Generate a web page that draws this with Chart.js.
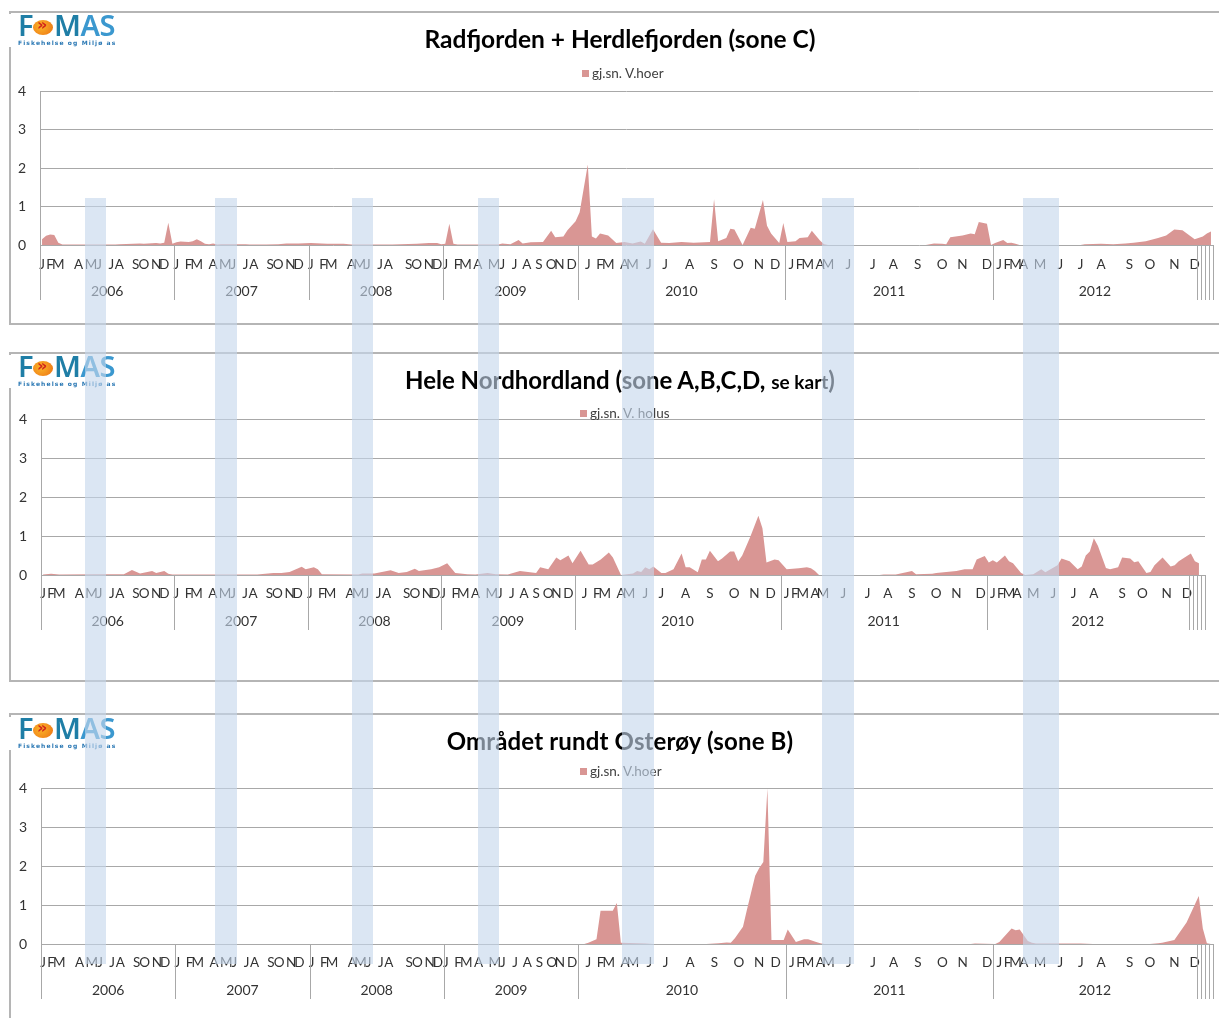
<!DOCTYPE html>
<html>
<head>
<meta charset="utf-8">
<script src="https://cdn.jsdelivr.net/npm/chart.js@4.4.1/dist/chart.umd.min.js"></script>
<style>
  body { margin: 0; width: 1219px; height: 1018px; overflow: hidden; background: #fff; position: relative; font-family: Lato, 'Open Sans', sans-serif; }
  .frame { position: absolute; left: 9px; width: 1212px; border-top: 2px solid #b5b5b5; border-left: 2px solid #b5b5b5; border-bottom: 2px solid #b5b5b5; box-sizing: border-box; }
  canvas { position: absolute; left: 10px; }
  .logo { position: absolute; left: 8px; width: 112px; height: 33px; background: #fff; }
  .logo .lg { position: absolute; left: 10px; top: -3px; font: 600 29px/28px 'Noto Sans', sans-serif; color: #1f7ea6; letter-spacing: -0.5px; white-space: nowrap; }
  .logo .fish { display: inline-block; width: 20px; height: 15px; margin: 0 1px 0 0; border-radius: 50%; background: radial-gradient(circle at 40% 40%, #fbb62a, #ec6f12); vertical-align: 1px; position: relative; }
  .logo .fish:after { content: '\00BB'; position: absolute; left: 4px; top: -6px; font: bold 16px/22px 'DejaVu Sans', sans-serif; color: #d2261b; }
  .logo .as { color: #3b98cf; }
  .logo .sub { position: absolute; left: 10px; top: 25px; font: bold 6px/7px 'DejaVu Sans', sans-serif; color: #2a78b4; letter-spacing: 1.1px; white-space: nowrap; }
  .title { position: absolute; left: 620px; transform: translateX(-50%); font-weight: bold; color: #000; white-space: nowrap; line-height: 1; }
  .title small { font-size: 19px; }
  .leg { position: absolute; font-size: 13.5px; color: #404040; white-space: nowrap; line-height: 1; }
  .leg i { display: inline-block; width: 7px; height: 7px; margin-right: 3px; vertical-align: 1px; }
  .band { position: absolute; background: rgba(197, 214, 236, 0.62); z-index: 10; }
</style>
</head>
<body>
<div class="frame" style="top:11px;height:314px"></div>
<div class="frame" style="top:352px;height:330px"></div>
<div class="frame" style="top:713px;height:320px"></div>

<canvas id="c1" width="1209" height="312" style="top:12px"></canvas>
<canvas id="c2" width="1209" height="328" style="top:353px"></canvas>
<canvas id="c3" width="1209" height="304" style="top:714px"></canvas>

<div class="logo" style="top:14px"><div class="lg">F<span class="fish"></span>M<span class="as">AS</span></div><div class="sub">Fiskehelse og Miljø as</div></div>
<div class="logo" style="top:355px"><div class="lg">F<span class="fish"></span>M<span class="as">AS</span></div><div class="sub">Fiskehelse og Miljø as</div></div>
<div class="logo" style="top:717px"><div class="lg">F<span class="fish"></span>M<span class="as">AS</span></div><div class="sub">Fiskehelse og Miljø as</div></div>

<div class="title" style="top:27px;font-size:24.5px">Radfjorden + Herdlefjorden (sone C)</div>
<div class="title" style="top:368px;font-size:24px">Hele Nordhordland (sone A,B,C,D, <small>se kart</small>)</div>
<div class="title" style="top:729px;font-size:24px;letter-spacing:0.15px">Området rundt Osterøy (sone B)</div>

<div class="leg" id="l1" style="left:582px;top:67px"></div>
<div class="leg" id="l2" style="left:580px;top:407px"></div>
<div class="leg" id="l3" style="left:580px;top:765px"></div>

<script>
// sample index on x (one category per sample), 0 = first sample of 2006
const monthLetters = ['J', 'F', 'M', 'A', 'M', 'J', 'J', 'A', 'S', 'O', 'N', 'D'];
const monthIdx = [
  0, 2, 4, 9, 12, 14, 17, 19, 23, 25, 28, 30,
  33, 36, 38, 42, 45, 47, 50, 52, 56, 58, 61, 63,
  66, 69, 71, 76, 78, 80, 83, 85, 90, 92, 95, 97,
  99, 102, 104, 107, 111, 113, 116, 119, 122, 125, 127, 130,
  134, 137, 139, 143, 145, 149, 153, 159, 165, 171, 176, 180,
  184, 186, 188, 191, 193, 198, 204, 209, 215, 221, 226, 232,
  235, 237, 239, 241, 245, 250, 255, 260, 267, 272, 278, 283
];
const yearLbl   = ['2006', '2007', '2008', '2009', '2010', '2011', '2012', '', '', '', ''];
const yearFirst = [0, 33, 66, 99, 132, 183, 234, 284, 285, 286, 287];
const lastIdx = 287;

// highlighted periods (from/to in sample index)
const bandFrom = [10.5, 42.5, 76.1, 107.0, 142.5, 191.6, 240.8];
const bandTo   = [15.7, 47.9, 81.3, 112.2, 150.3, 199.4, 249.7];

// [sample index, gj.sn. lus] - vertices
const soneC = [
  [0,0.15],[1,0.24],[2,0.27],[3,0.26],[4,0.06],[5,0.01],[18,0.01],[19,0.02],[24,0.04],[25,0.03],
  [28,0.05],[29,0.04],[30,0.06],[31,0.58],[32,0.03],[33,0.07],[34,0.09],[36,0.08],[37,0.10],[38,0.15],
  [39,0.10],[40,0.03],[41,0.02],[42,0.04],[43,0.01],[44,0.02],[50,0.02],[51,0.01],[55,0.01],[58,0.02],
  [60,0.04],[63,0.04],[66,0.05],[70,0.03],[74,0.03],[76,0.01],[86,0.01],[88,0.02],[92,0.03],[95,0.05],
  [97,0.05],[98,0.02],[99,0.03],[100,0.55],[101,0.03],[102,0.01],[112,0.01],[113,0.04],[115,0.02],[117,0.13],
  [118,0.04],[120,0.07],[123,0.08],[125,0.37],[126,0.20],[128,0.22],[129,0.38],[131,0.62],[132,0.85],[134,2.09],
  [135,0.22],[136,0.17],[137,0.30],[139,0.25],[141,0.05],[143,0.08],[145,0.04],[147,0.09],[148,0.03],[150,0.41],
  [152,0.06],[154,0.05],[157,0.08],[160,0.06],[164,0.08],[165,1.19],[166,0.10],[168,0.18],[169,0.42],[170,0.40],
  [172,0.00],[174,0.45],[175,0.42],[177,1.17],[178,0.50],[179,0.30],[181,0.05],[182,0.57],[183,0.08],[185,0.10],
  [186,0.18],[188,0.20],[189,0.37],[191,0.12],[192,0.02],[193,0.00],[217,0.00],[219,0.04],[221,0.03],[222,0.02],
  [223,0.20],[226,0.25],[228,0.30],[229,0.28],[230,0.60],[232,0.55],[233,0.00],[234,0.05],[236,0.13],[237,0.05],
  [238,0.06],[239,0.03],[240,0.00],[255,0.00],[256,0.02],[260,0.03],[263,0.02],[266,0.04],[268,0.06],[271,0.10],
  [274,0.18],[276,0.25],[278,0.40],[280,0.38],[283,0.15],[285,0.22],[286,0.30],[287,0.35]
];
const soneAll = [
  [0,0.01],[2,0.03],[4,0.01],[13,0.02],[20,0.02],[22,0.13],[24,0.04],[27,0.10],[28,0.05],[30,0.10],
  [31,0.03],[32,0.01],[53,0.01],[57,0.05],[59,0.05],[61,0.08],[64,0.21],[65,0.15],[67,0.20],[68,0.15],
  [69,0.02],[78,0.01],[79,0.04],[82,0.04],[86,0.12],[88,0.05],[90,0.08],[92,0.16],[93,0.10],[96,0.15],
  [98,0.20],[100,0.30],[102,0.05],[105,0.02],[107,0.01],[110,0.05],[112,0.02],[115,0.01],[118,0.10],[122,0.05],
  [123,0.20],[125,0.15],[127,0.45],[128,0.38],[130,0.50],[131,0.30],[133,0.62],[135,0.27],[136,0.27],[138,0.40],
  [140,0.58],[141,0.45],[143,0.00],[146,0.04],[147,0.10],[148,0.08],[149,0.20],[150,0.15],[151,0.22],[153,0.05],
  [154,0.05],[156,0.15],[158,0.55],[159,0.20],[160,0.20],[162,0.07],[163,0.40],[164,0.40],[165,0.62],[167,0.35],
  [168,0.42],[170,0.60],[171,0.60],[172,0.35],[173,0.50],[175,0.98],[177,1.52],[178,1.20],[179,0.32],[181,0.40],
  [182,0.38],[184,0.15],[187,0.17],[189,0.20],[190,0.17],[191,0.10],[192,0.00],[207,0.00],[208,0.01],[211,0.01],
  [215,0.10],[216,0.02],[220,0.03],[221,0.05],[226,0.10],[228,0.15],[230,0.15],[231,0.40],[233,0.49],[234,0.32],
  [235,0.38],[236,0.32],[238,0.50],[239,0.35],[240,0.30],[242,0.05],[243,0.00],[245,0.02],[247,0.15],[248,0.07],
  [251,0.25],[252,0.42],[254,0.35],[256,0.15],[257,0.22],[258,0.50],[259,0.60],[260,0.94],[261,0.75],[263,0.18],
  [264,0.15],[266,0.20],[267,0.45],[269,0.42],[270,0.33],[271,0.35],[273,0.05],[274,0.08],[275,0.25],[277,0.45],
  [279,0.22],[280,0.25],[281,0.35],[284,0.55],[285,0.35],[286,0.30]
];
const soneB = [
  [0,0.00],[133,0.00],[134,0.03],[136,0.12],[137,0.85],[140,0.85],[141,1.05],[142,0.03],[148,0.01],[150,0.00],
  [163,0.00],[166,0.02],[168,0.04],[169,0.03],[170,0.15],[172,0.44],[173,0.89],[175,1.75],[176,1.95],[177,2.10],
  [178,3.99],[179,0.10],[182,0.10],[183,0.37],[185,0.05],[187,0.12],[188,0.12],[190,0.05],[191,0.02],[192,0.00],
  [228,0.00],[229,0.01],[234,0.00],[235,0.05],[238,0.40],[239,0.35],[240,0.37],[242,0.08],[243,0.03],[244,0.01],
  [255,0.01],[258,0.00],[272,0.00],[274,0.02],[275,0.03],[278,0.10],[281,0.55],[284,1.23],[285,0.40],[286,0.02],
  [287,0.00]
];

const AREA = '#D99694';
const GRID = '#a8a8a8';
const INK = '#333333';
const TICK_FONT = { family: 'Lato', size: 13.5 };

// second axis level: year groups with divider lines
const yearAxis = {
  id: 'yearAxis',
  afterDraw(chart) {
    const { ctx, chartArea: a, scales: { x } } = chart;
    const drop = 55;
    const edges = yearFirst.map(i => i - 0.5).concat(lastIdx + 0.5);
    ctx.save();
    ctx.strokeStyle = GRID;
    ctx.lineWidth = 1;
    edges.forEach((e, k) => {
      const px = Math.round(x.getPixelForValue(e)) + 0.5;
      ctx.beginPath();
      ctx.moveTo(px, k === 0 ? a.top : a.bottom);
      ctx.lineTo(px, a.bottom + drop);
      ctx.stroke();
    });
    ctx.fillStyle = INK;
    ctx.font = '14px Lato';
    ctx.textAlign = 'center';
    ctx.textBaseline = 'middle';
    yearLbl.forEach((lbl, k) => {
      if (!lbl) return;
      const mid = (x.getPixelForValue(edges[k]) + x.getPixelForValue(edges[k + 1])) / 2;
      ctx.fillText(lbl, mid, a.bottom + 46);
    });
    ctx.restore();
  }
};

function panel(id, points, label, g) {
  return new Chart(document.getElementById(id), {
    type: 'line',
    data: {
      datasets: [{
        label,
        data: points.map(([x, y]) => ({ x, y })),
        fill: 'origin',
        backgroundColor: AREA,
        borderWidth: 0,
        pointRadius: 0,
        tension: 0,
      }],
    },
    options: {
      responsive: false, animation: false, devicePixelRatio: 1,
      layout: { padding: { left: 0, right: g.right, top: g.top, bottom: 0 } },
      plugins: { legend: { display: false }, tooltip: { enabled: false } },
      scales: {
        x: {
          type: 'linear', min: -0.5, max: lastIdx + 0.5,
          afterBuildTicks: s => { s.ticks = monthIdx.map(v => ({ value: v })); },
          afterFit: s => { s.height = g.xh; },
          grid: { display: false }, border: { display: false },
          ticks: {
            autoSkip: false, maxRotation: 0, minRotation: 0, padding: g.tp,
            color: INK, font: TICK_FONT,
            callback: (v, k) => monthLetters[k % 12],
          },
        },
        y: {
          min: 0, max: 4,
          afterFit: s => { s.width = g.yw; },
          grid: { color: GRID, drawTicks: false }, border: { display: false },
          ticks: { stepSize: 1, padding: 14, color: INK, font: { family: 'Lato', size: 14 } },
        },
      },
    },
    plugins: [yearAxis],
  });
}

const ch1 = panel('c1', soneC,   'gj.sn. V.hoer',   { top: 79, xh: 79,  yw: 30, right: 6,  tp: 4 });
const ch2 = panel('c2', soneAll, 'gj.sn. V. holus', { top: 66, xh: 106, yw: 31, right: 14, tp: 3 });
const ch3 = panel('c3', soneB,   'gj.sn. V.hoer',   { top: 74, xh: 74,  yw: 31, right: 6,  tp: 3 });

[[ch1, 'l1'], [ch2, 'l2'], [ch3, 'l3']].forEach(([c, id]) => {
  const ds = c.data.datasets[0];
  document.getElementById(id).innerHTML = `<i style="background:${ds.backgroundColor}"></i>${ds.label}`;
});

// highlight bands run across all three panels, placed on the top chart's x scale
const xs = ch1.scales.x;
bandFrom.forEach((f, k) => {
  const l = 10 + xs.getPixelForValue(f);
  const r = 10 + xs.getPixelForValue(bandTo[k]);
  const d = document.createElement('div');
  d.className = 'band';
  d.style.cssText = `left:${l}px;width:${r - l}px;top:198px;height:766px`;
  document.body.appendChild(d);
});
</script>
</body>
</html>
